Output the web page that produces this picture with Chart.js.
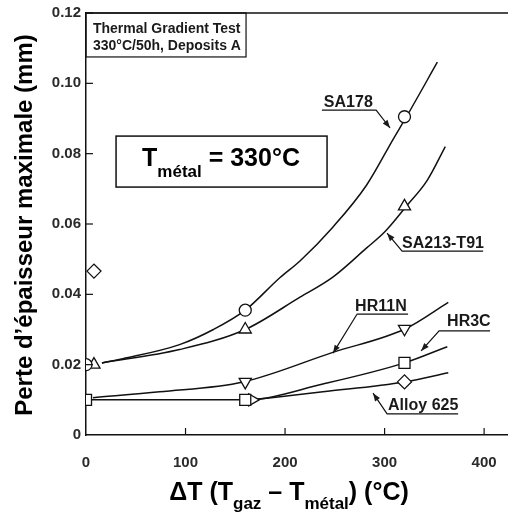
<!DOCTYPE html>
<html><head><meta charset="utf-8">
<script src="https://cdn.jsdelivr.net/npm/chart.js@4/dist/chart.umd.min.js"></script>
<style>html,body{margin:0;padding:0;background:#fff;overflow:hidden}canvas{display:block}</style>
</head><body>
<canvas id="c" width="508" height="513"></canvas>
<script>
// ---- axes ----
const xTicks = [0, 100, 200, 300, 400];
const yTicks = [0, 0.02, 0.04, 0.06, 0.08, 0.10, 0.12];
const yTickLabels = ['0', '0.02', '0.04', '0.06', '0.08', '0.10', '0.12'];

// ---- measured points (ΔT in °C, loss in mm) ----
const sa178X = [0, 160, 320];
const sa178Y = [0.020, 0.0355, 0.0905];
const t91X = [8, 160, 320];
const t91Y = [0.020, 0.030, 0.065];
const hr11nX = [160, 320];
const hr11nY = [0.0151, 0.0302];
const hr3cX = [0, 160, 320];
const hr3cY = [0.010, 0.010, 0.0205];
const a625X = [8, 167, 320];
const a625Y = [0.0466, 0.010, 0.0151];

// ---- fitted curves ----
const sa178CurveX = [16, 37, 94, 128, 160, 195, 215, 248, 282, 309, 322, 353];
const sa178CurveY = [0.0205, 0.0217, 0.0257, 0.030, 0.0355, 0.0448, 0.0495, 0.0591, 0.0711, 0.0843, 0.0905, 0.106];
const t91CurveX = [16, 94, 160, 215, 248, 282, 300, 322, 343, 361];
const t91CurveY = [0.0205, 0.0243, 0.030, 0.0392, 0.0449, 0.0532, 0.0577, 0.0651, 0.0725, 0.0820];
const hr11nCurveX = [7, 74, 158, 248, 321, 364];
const hr11nCurveY = [0.0106, 0.0123, 0.0151, 0.0235, 0.0302, 0.0377];
const hr3cCurveX = [0, 160, 238, 320, 363];
const hr3cCurveY = [0.010, 0.010, 0.0145, 0.0205, 0.0251];
const a625CurveX = [167, 238, 320, 364];
const a625CurveY = [0.0100, 0.0123, 0.0151, 0.0177];

const ink = '#111';
const pts = (xs, ys) => xs.map((x, i) => ({x: x, y: ys[i]}));
const curve = (xs, ys) => ({
  type: 'line', data: pts(xs, ys), borderColor: ink, borderWidth: 1.5,
  pointRadius: 0, cubicInterpolationMode: 'monotone', fill: false, order: 1
});
const marks = (xs, ys, style, rot, r) => ({
  type: 'scatter', data: pts(xs, ys), pointStyle: style, rotation: rot,
  pointRadius: r, pointHoverRadius: r, pointBackgroundColor: '#fff',
  pointBorderColor: ink, pointBorderWidth: 1.3, showLine: false, order: 0
});

// label: text anchor, underline far end, underline near end, arrow tip (data units)
const labels = [
  {text: 'SA178', x: 239, y: 0.0933, far: [237, 0.0924], near: [291.5, 0.0924], tip: [305.5, 0.0873]},
  {text: 'SA213-T91', x: 317.6, y: 0.0532, far: [399, 0.0523], near: [317.6, 0.0523], tip: [302.5, 0.0574]},
  {text: 'HR11N', x: 270.4, y: 0.0353, far: [323.6, 0.0344], near: [272.4, 0.0344], tip: [248.2, 0.0233]},
  {text: 'HR3C', x: 362.8, y: 0.0310, far: [406, 0.0296], near: [354.8, 0.0296], tip: [336.7, 0.0239]},
  {text: 'Alloy 625', x: 303.5, y: 0.0071, far: [373.9, 0.0060], near: [302.5, 0.0060], tip: [288.4, 0.0119]}
];

const FAM = '"Liberation Sans", Arial, sans-serif';
function richWidth(ctx, segs, F, S) {
  let w = 0;
  segs.forEach(s => { ctx.font = 'bold ' + (s.sub ? S : F) + 'px ' + FAM; w += ctx.measureText(s.t).width; });
  return w;
}
function drawRich(ctx, segs, x, y, F, S, d) {
  let cx = x;
  ctx.textAlign = 'left';
  ctx.textBaseline = 'alphabetic';
  segs.forEach(s => {
    ctx.font = 'bold ' + (s.sub ? S : F) + 'px ' + FAM;
    ctx.fillText(s.t, cx, s.sub ? y + d : y);
    cx += ctx.measureText(s.t).width;
  });
}
function arrow(ctx, x0, y0, x1, y1) {
  const a = Math.atan2(y1 - y0, x1 - x0), L = 8, W = 3;
  ctx.beginPath();
  ctx.moveTo(x1, y1);
  ctx.lineTo(x1 - L * Math.cos(a) + W * Math.sin(a), y1 - L * Math.sin(a) - W * Math.cos(a));
  ctx.lineTo(x1 - L * Math.cos(a) - W * Math.sin(a), y1 - L * Math.sin(a) + W * Math.cos(a));
  ctx.closePath();
  ctx.fill();
}

const deco = {
  id: 'deco',
  afterDatasetsDraw(chart) {
    const ctx = chart.ctx, xs = chart.scales.x, ys = chart.scales.y, a = chart.chartArea;
    const X = v => xs.getPixelForValue(v), Y = v => ys.getPixelForValue(v);
    ctx.save();
    ctx.strokeStyle = ink; ctx.fillStyle = '#1a1a1a';
    // top frame line
    ctx.lineWidth = 1.5;
    ctx.beginPath(); ctx.moveTo(a.left, a.top); ctx.lineTo(a.right, a.top); ctx.stroke();
    // inward tick marks
    ctx.lineWidth = 1.2;
    xTicks.forEach(v => { if (v === 0) return; const p = X(v); ctx.beginPath(); ctx.moveTo(p, a.bottom); ctx.lineTo(p, a.bottom - 7); ctx.stroke(); });
    yTicks.forEach(v => { if (v === 0) return; const p = Y(v); ctx.beginPath(); ctx.moveTo(a.left, p); ctx.lineTo(a.left + 7, p); ctx.stroke(); });

    // Thermal Gradient Test box
    ctx.lineWidth = 1.2;
    ctx.strokeRect(X(0), Y(0.12), X(160.8) - X(0), Y(0.1075) - Y(0.12));
    ctx.font = 'bold 14px ' + FAM;
    ctx.textAlign = 'left'; ctx.textBaseline = 'alphabetic';
    ctx.fillText('Thermal Gradient Test', X(7), Y(0.1143));
    ctx.fillText('330°C/50h, Deposits A', X(7), Y(0.1095));

    // T_métal box
    ctx.lineWidth = 1.5;
    ctx.strokeRect(X(30.2), Y(0.0850), X(242.2) - X(30.2), Y(0.0705) - Y(0.0850));
    ctx.fillStyle = '#000';
    drawRich(ctx, [{t: 'T'}, {t: 'métal', sub: true}, {t: ' = 330°C'}], X(56.3), Y(0.0765), 25, 17, 11);

    // curve labels with leaders
    ctx.fillStyle = '#1a1a1a';
    ctx.lineWidth = 1.2;
    labels.forEach(l => {
      ctx.font = 'bold 16px ' + FAM;
      ctx.fillText(l.text, X(l.x), Y(l.y));
      ctx.beginPath();
      ctx.moveTo(X(l.far[0]), Y(l.far[1]));
      ctx.lineTo(X(l.near[0]), Y(l.near[1]));
      ctx.lineTo(X(l.tip[0]), Y(l.tip[1]));
      ctx.stroke();
      arrow(ctx, X(l.near[0]), Y(l.near[1]), X(l.tip[0]), Y(l.tip[1]));
    });

    // axis titles
    ctx.fillStyle = '#000';
    const xt = [{t: 'ΔT (T'}, {t: 'gaz', sub: true}, {t: ' – T'}, {t: 'métal', sub: true}, {t: ') (°C)'}];
    const w = richWidth(ctx, xt, 25, 17);
    drawRich(ctx, xt, 289 - w / 2, 500, 25, 17, 9);
    ctx.translate(32, 225);
    ctx.rotate(-Math.PI / 2);
    ctx.font = 'bold 24px ' + FAM;
    ctx.textAlign = 'center'; ctx.textBaseline = 'alphabetic';
    ctx.fillText('Perte d\u2019épaisseur maximale (mm)', 0, 0);
    ctx.restore();
  }
};

new Chart(document.getElementById('c'), {
  data: {
    datasets: [
      marks(sa178X, sa178Y, 'circle', 0, 6),
      marks(t91X, t91Y, 'triangle', 0, 7),
      marks(hr11nX, hr11nY, 'triangle', 180, 7),
      marks(hr3cX, hr3cY, 'rect', 0, 7.8),
      marks(a625X.slice(0, 1), a625Y.slice(0, 1), 'rectRot', 0, 7),
      marks(a625X.slice(1, 2), a625Y.slice(1, 2), 'triangle', 90, 7),
      marks(a625X.slice(2), a625Y.slice(2), 'rectRot', 0, 7),
      curve(sa178CurveX, sa178CurveY),
      curve(t91CurveX, t91CurveY),
      curve(hr11nCurveX, hr11nCurveY),
      curve(hr3cCurveX, hr3cCurveY),
      curve(a625CurveX, a625CurveY)
    ]
  },
  options: {
    responsive: false, animation: false, devicePixelRatio: 1,
    layout: {autoPadding: false, padding: {top: 13, left: 0, right: 0, bottom: 0}},
    plugins: {legend: {display: false}, tooltip: {enabled: false}},
    scales: {
      x: {
        type: 'linear', min: 0, max: 424,
        afterBuildTicks: s => { s.ticks = xTicks.map(v => ({value: v})); },
        afterFit: s => { s.height = 78; s.paddingLeft = 0; s.paddingRight = 0; },
        grid: {display: false, drawTicks: false},
        border: {display: true, color: ink, width: 1.5},
        ticks: {font: {size: 15, weight: 'bold', family: FAM}, color: '#2a2a2a', padding: 19, maxRotation: 0}
      },
      y: {
        type: 'linear', min: 0, max: 0.12,
        afterBuildTicks: s => { s.ticks = yTicks.map(v => ({value: v})); },
        afterFit: s => { s.width = 86; s.paddingTop = 0; s.paddingBottom = 0; },
        grid: {display: false, drawTicks: false},
        border: {display: true, color: ink, width: 1.5},
        ticks: {font: {size: 15, weight: 'bold', family: FAM}, color: '#2a2a2a', padding: 5,
          callback: (v, i) => yTickLabels[i]}
      }
    }
  },
  plugins: [deco]
});
</script>
</body></html>
